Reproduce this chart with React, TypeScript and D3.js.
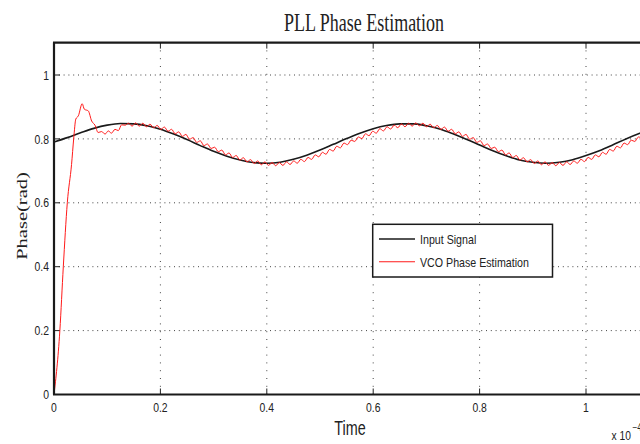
import React from "react";
import * as d3 from "d3";

// ---- data ----
const xTicks = [0, 0.2, 0.4, 0.6, 0.8, 1];
const xTickLabels = ["0", "0.2", "0.4", "0.6", "0.8", "1"];
const yTicks = [0, 0.2, 0.4, 0.6, 0.8, 1];
const yTickLabels = ["0", "0.2", "0.4", "0.6", "0.8", "1"];

// Input signal (time in units of 1e-4, phase in rad)
const inputTime = [
  0, 0.025, 0.05, 0.075, 0.1, 0.125, 0.15, 0.175, 0.2, 0.225, 0.25, 0.275, 0.3,
  0.325, 0.35, 0.375, 0.4, 0.425, 0.45, 0.475, 0.5, 0.525, 0.55, 0.575, 0.6,
  0.625, 0.65, 0.675, 0.7, 0.725, 0.75, 0.775, 0.8, 0.825, 0.85, 0.875, 0.9,
  0.925, 0.95, 0.975, 1.0, 1.025, 1.05, 1.075, 1.1, 1.125,
];
const inputPhase = [
  0.79, 0.804, 0.819, 0.833, 0.843, 0.848, 0.847, 0.841, 0.83, 0.815, 0.798,
  0.779, 0.761, 0.746, 0.734, 0.726, 0.724, 0.727, 0.736, 0.749, 0.765, 0.783,
  0.801, 0.818, 0.832, 0.842, 0.847, 0.847, 0.841, 0.831, 0.816, 0.799, 0.781,
  0.763, 0.747, 0.734, 0.727, 0.724, 0.727, 0.735, 0.748, 0.763, 0.781, 0.8,
  0.817, 0.831,
];

// VCO estimate: start-up transient
const vcoStartTime = [
  0, 0.011, 0.0175, 0.025, 0.033, 0.037, 0.041, 0.0457, 0.053, 0.057, 0.0645,
  0.0708, 0.077, 0.083, 0.0896, 0.096, 0.102, 0.108, 0.1147, 0.121, 0.127,
  0.134,
];
const vcoStartPhase = [
  0, 0.2, 0.4, 0.6, 0.72, 0.8, 0.862, 0.872, 0.91, 0.893, 0.8875, 0.856, 0.843,
  0.82, 0.823, 0.815, 0.825, 0.818, 0.83, 0.826, 0.844, 0.843,
];
// VCO estimate: tracking with ripple, sampled every vcoStep from vcoTrackStart
const vcoTrackStart = 0.14;
const vcoStep = 0.00675;
const vcoTrackPhase = [
  0.849, 0.84, 0.85, 0.84, 0.849, 0.838, 0.846, 0.835, 0.842, 0.83,
  0.837, 0.824, 0.83, 0.816, 0.822, 0.808, 0.814, 0.799, 0.804, 0.789,
  0.794, 0.779, 0.784, 0.77, 0.774, 0.76, 0.765, 0.75, 0.756, 0.742,
  0.748, 0.734, 0.741, 0.728, 0.735, 0.723, 0.731, 0.719, 0.728, 0.717,
  0.726, 0.716, 0.726, 0.717, 0.728, 0.72, 0.731, 0.724, 0.736, 0.729,
  0.742, 0.736, 0.75, 0.744, 0.758, 0.752, 0.767, 0.762, 0.777, 0.772,
  0.787, 0.782, 0.796, 0.792, 0.806, 0.801, 0.816, 0.81, 0.824, 0.818,
  0.832, 0.825, 0.838, 0.831, 0.843, 0.835, 0.847, 0.838,
  0.849, 0.84, 0.85, 0.841, 0.849, 0.838, 0.846, 0.835, 0.842, 0.83,
  0.837, 0.824, 0.83, 0.816, 0.822, 0.808, 0.814, 0.799, 0.804, 0.789,
  0.794, 0.779, 0.784, 0.77, 0.774, 0.76, 0.765, 0.75, 0.756, 0.742,
  0.748, 0.734, 0.741, 0.728, 0.735, 0.723, 0.731, 0.719, 0.728, 0.717,
  0.726, 0.716, 0.726, 0.717, 0.728, 0.72, 0.731, 0.724, 0.736, 0.729,
  0.742, 0.736, 0.75, 0.744, 0.758, 0.752, 0.767, 0.762, 0.777, 0.772,
  0.787, 0.782, 0.796, 0.792, 0.806, 0.801,
];

const legendLabels = ["Input Signal", "VCO Phase Estimation"];
const seriesColors = ["#1a1a1a", "#ff1a1a"];

// ---- layout ----
const W = 640;
const H = 444;
const left = 54;
const top = 42.6;
const bottom = 394.5;
const right = 676;

const SANS = "'Liberation Sans', Arial, sans-serif";
const SERIF = "'Liberation Serif', 'Times New Roman', serif";

function T(props: {
  x: number;
  y: number;
  sx?: number;
  rotate?: number;
  anchor?: string;
  size: number;
  family: string;
  fill?: string;
  children: React.ReactNode;
}) {
  const { x, y, sx = 1, rotate, anchor = "start", size, family, fill = "#222" } = props;
  return (
    <text
      transform={`translate(${x},${y}) scale(${sx},1)${rotate ? ` rotate(${rotate})` : ""}`}
      textAnchor={anchor}
      fontSize={size}
      fontFamily={family}
      fill={fill}
    >
      {props.children}
    </text>
  );
}

export default function App() {
  const x = d3.scaleLinear().domain([0, 1]).range([54, 586]);
  const y = d3.scaleLinear().domain([0, 1]).range([394.5, 75]);

  const inputData: [number, number][] = inputTime.map((t, i) => [t, inputPhase[i]]);
  const vcoData: [number, number][] = [
    ...vcoStartTime.map((t, i) => [t, vcoStartPhase[i]] as [number, number]),
    ...vcoTrackPhase.map((v, i) => [vcoTrackStart + i * vcoStep, v] as [number, number]),
  ];

  const lineSmooth = d3
    .line<[number, number]>()
    .x((d) => x(d[0]))
    .y((d) => y(d[1]))
    .curve(d3.curveMonotoneX);

  const lx0 = 379;
  const lx1 = 415;

  return (
    <svg
      width={W}
      height={H}
      style={{ position: "absolute", left: 0, top: 0, background: "#fff" }}
    >
      <defs>
        <clipPath id="plotclip">
          <rect x={left} y={top} width={right - left} height={bottom - top} />
        </clipPath>
      </defs>
      <rect x={0} y={0} width={W} height={H} fill="#fff" />

      {/* grid */}
      {yTicks
        .filter((v) => v > 0)
        .map((v) => (
          <line
            key={"gy" + v}
            x1={left}
            x2={right}
            y1={y(v)}
            y2={y(v)}
            stroke="#444"
            strokeWidth={1}
            strokeDasharray="1,3.8"
          />
        ))}
      {xTicks
        .filter((v) => v > 0)
        .map((v) => (
          <line
            key={"gx" + v}
            x1={x(v)}
            x2={x(v)}
            y1={top}
            y2={bottom}
            stroke="#444"
            strokeWidth={1}
            strokeDasharray="1,6.8"
          />
        ))}

      {/* ticks */}
      {yTicks.map((v) => (
        <line key={"ty" + v} x1={left} x2={left + 6} y1={y(v)} y2={y(v)} stroke="#222" strokeWidth={1} />
      ))}
      {xTicks.map((v) => (
        <g key={"tx" + v}>
          <line x1={x(v)} x2={x(v)} y1={bottom} y2={bottom - 6} stroke="#222" strokeWidth={1} />
          <line x1={x(v)} x2={x(v)} y1={top} y2={top + 6} stroke="#222" strokeWidth={1} />
        </g>
      ))}

      {/* series */}
      <g clipPath="url(#plotclip)">
        <path d={lineSmooth(inputData) || ""} fill="none" stroke={seriesColors[0]} strokeWidth={1.6} />
        <path d={lineSmooth(vcoData) || ""} fill="none" stroke={seriesColors[1]} strokeWidth={1} />
      </g>

      {/* axes frame */}
      <line x1={left} x2={left} y1={top} y2={bottom} stroke="#1a1a1a" strokeWidth={2.2} />
      <line x1={left - 1} x2={right} y1={bottom} y2={bottom} stroke="#1a1a1a" strokeWidth={2.2} />
      <line x1={left - 1} x2={right} y1={top} y2={top} stroke="#1a1a1a" strokeWidth={2.2} />

      {/* tick labels */}
      {yTicks.map((v, i) => (
        <T key={"ly" + v} x={49} y={y(v) + 4.6} sx={0.8} anchor="end" size={13} family={SANS}>
          {yTickLabels[i]}
        </T>
      ))}
      {xTicks.map((v, i) => (
        <T key={"lx" + v} x={x(v)} y={412} sx={0.8} anchor="middle" size={13} family={SANS}>
          {xTickLabels[i]}
        </T>
      ))}

      {/* exponent */}
      <T x={611.5} y={440} sx={0.82} size={12.5} family={SANS}>
        x 10
      </T>
      <T x={632.5} y={431} sx={0.82} size={10} family={SANS}>
        −4
      </T>

      {/* titles */}
      <T x={364} y={30.7} sx={0.72} anchor="middle" size={25} family={SERIF}>
        PLL Phase Estimation
      </T>
      <T x={350} y={435} sx={0.72} anchor="middle" size={20} family={SANS}>
        Time
      </T>
      <T x={26.5} y={216} sx={0.72} rotate={-90} anchor="middle" size={20.5} family={SERIF}>
        Phase(rad)
      </T>

      {/* legend */}
      <rect x={372.7} y={224.3} width={179.8} height={52.7} fill="#fff" stroke="#1a1a1a" strokeWidth={1.5} />
      <line x1={lx0} x2={lx1} y1={239} y2={239} stroke={seriesColors[0]} strokeWidth={1.3} />
      <line x1={lx0} x2={lx1} y1={261.7} y2={261.7} stroke={seriesColors[1]} strokeWidth={1.1} />
      <T x={420} y={244} sx={0.82} size={13} family={SANS}>
        {legendLabels[0]}
      </T>
      <T x={420} y={266.5} sx={0.82} size={13} family={SANS}>
        {legendLabels[1]}
      </T>
    </svg>
  );
}
